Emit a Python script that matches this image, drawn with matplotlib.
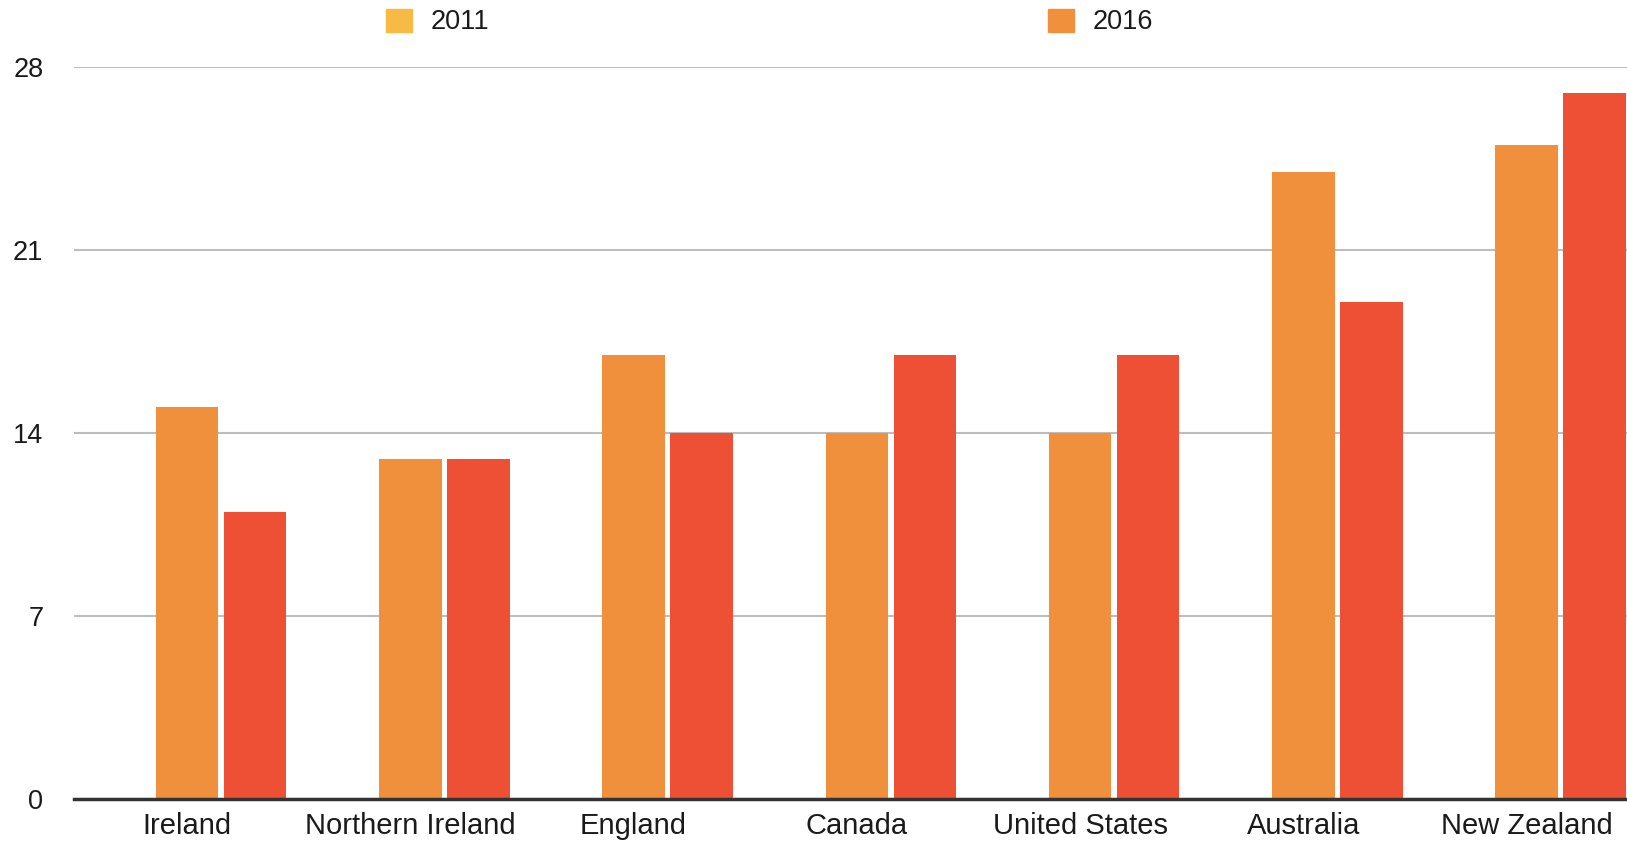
import numpy as np
import matplotlib.pyplot as plt
from matplotlib.patches import Patch

# Données
countries = ["Ireland", "Northern Ireland", "England", "Canada",
             "United States", "Australia", "New Zealand"]
values_2011 = [15, 13, 17, 14, 14, 24, 25]
values_2016 = [11, 13, 14, 17, 17, 19, 27]
yticks = [0, 7, 14, 21, 28]

bar_2011 = "#F0903C"
bar_2016 = "#EE5035"
legend_2011 = "#F7BA45"
legend_2016 = "#F0903C"

plt.rcParams["font.family"] = ["Liberation Sans", "DejaVu Sans"]

fig = plt.figure(figsize=(16.27, 8.42), dpi=100)
ax = fig.add_axes([74 / 1627, 42.7 / 842, 1553 / 1627, 732.3 / 842])

x = np.arange(len(countries))
w = 0.28
ax.bar(x, values_2011, width=w, color=bar_2011, zorder=3)
ax.bar(x + 0.3045, values_2016, width=w, color=bar_2016, zorder=3)

ax.set_xlim(-0.506, 6.449)
ax.set_ylim(0, 28)
ax.set_yticks(yticks)
ax.set_xticks(x)
ax.set_xticklabels(countries, fontsize=21, color="#1a1a1a")
ax.tick_params(axis="y", length=0, pad=22, labelsize=19.5, labelcolor="#1a1a1a")
ax.tick_params(axis="x", length=0, pad=9)

ax.grid(axis="y", color="#BDBDBD", linewidth=1.5, zorder=0)
ax.set_axisbelow(True)
for s in ["top", "right", "left"]:
    ax.spines[s].set_visible(False)
ax.spines["bottom"].set_color("#333333")
ax.spines["bottom"].set_linewidth(2.5)
ax.spines["bottom"].set_zorder(4)

handles = [Patch(color=legend_2011, label="2011"),
           Patch(color=legend_2016, label="2016")]
fig.legend(handles=handles, ncol=2, loc="center left",
           bbox_to_anchor=(362 / 1627, 1 - 22 / 842), frameon=False,
           fontsize=19.5, handlelength=0.95, handleheight=0.95,
           handletextpad=0.68, columnspacing=20.65, labelcolor="#1a1a1a")

fig.savefig("out.png", dpi=100)
